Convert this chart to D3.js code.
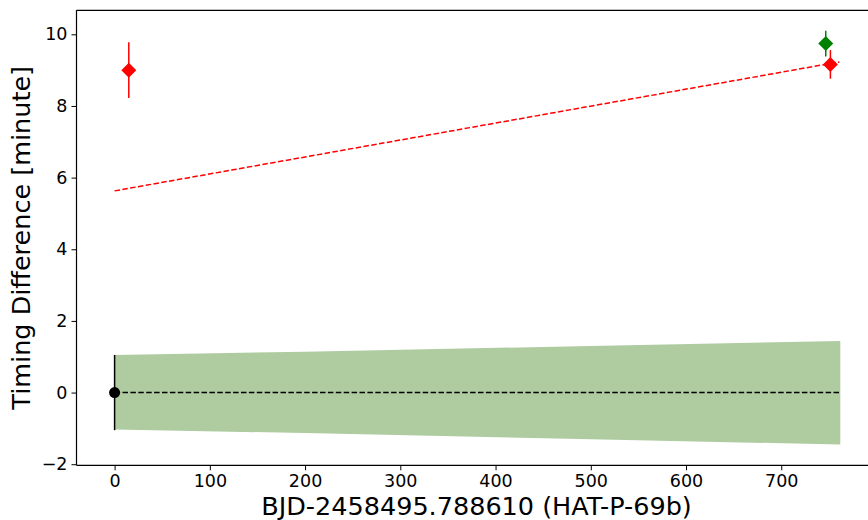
<!DOCTYPE html>
<html>
<head>
<meta charset="utf-8">
<script src="https://cdn.jsdelivr.net/npm/d3@7"></script>
<style>
  html, body { margin: 0; padding: 0; background: #fff; }
  svg { display: block; font-family: "DejaVu Sans", sans-serif; }
</style>
</head>
<body>
<svg id="chart" width="868" height="520"></svg>
<script>
// Reference transit (epoch 0)
const refX = [0];
const refY = [0];
const refErr = [1.05];

// Red transit timings
const redX = [14.9, 751.6];
const redY = [9.0, 9.16];
const redErr = [0.78, 0.40];

// Green transit timing
const greenX = [746.7];
const greenY = [9.74];
const greenErr = [0.36];

// Linear fit (red dashed)
const fitX = [0, 761];
const fitY = [5.63, 9.23];

// Ephemeris uncertainty band
const bandX = [0, 200, 500, 762];
const bandUpper = [1.05, 1.14, 1.30, 1.44];
const bandLower = [-1.03, -1.13, -1.30, -1.45];

// Zero line
const zeroX = [0, 762];
const zeroY = [0, 0];

const xTicks = [0, 100, 200, 300, 400, 500, 600, 700];
const yTicks = [-2, 0, 2, 4, 6, 8, 10];

const xLabel = "BJD-2458495.788610 (HAT-P-69b)";
const yLabel = "Timing Difference [minute]";

const svg = d3.select("#chart");
const mLeft = 76.5, mRight = 876.5, mTop = 10.3, mBottom = 465.3;

const x = d3.scaleLinear().domain([-40, 800]).range([mLeft, mRight]);
const y = d3.scaleLinear().domain([-2.03, 10.67]).range([mBottom, mTop]);

const plot = svg.append("g");

// band
const bandData = bandX.map((v, i) => ({x: v, lo: bandLower[i], hi: bandUpper[i]}));
plot.append("path")
  .datum(bandData)
  .attr("d", d3.area().x(d => x(d.x)).y0(d => y(d.lo)).y1(d => y(d.hi)))
  .attr("fill", "#aecca0");

// zero dashed line
plot.append("path")
  .datum(zeroX.map((v, i) => [v, zeroY[i]]))
  .attr("d", d3.line().x(d => x(d[0])).y(d => y(d[1])))
  .attr("stroke", "#000").attr("stroke-width", 1.5)
  .attr("stroke-dasharray", "5.5,2.4").attr("fill", "none");

// fit dashed line
plot.append("path")
  .datum(fitX.map((v, i) => [v, fitY[i]]))
  .attr("d", d3.line().x(d => x(d[0])).y(d => y(d[1])))
  .attr("stroke", "#ff0000").attr("stroke-width", 1.5)
  .attr("stroke-dasharray", "5.5,2.4").attr("fill", "none");

function errorPoints(xs, ys, es, color, shape) {
  const pts = xs.map((v, i) => ({x: v, y: ys[i], e: es[i]}));
  const g = plot.append("g");
  g.selectAll("line").data(pts).join("line")
    .attr("x1", d => x(d.x)).attr("x2", d => x(d.x))
    .attr("y1", d => y(d.y - d.e)).attr("y2", d => y(d.y + d.e))
    .attr("stroke", color).attr("stroke-width", 1.5);
  if (shape === "diamond") {
    const r = 7.5;
    g.selectAll("path").data(pts).join("path")
      .attr("d", d => {
        const cx = x(d.x), cy = y(d.y);
        return `M${cx},${cy - r}L${cx + r},${cy}L${cx},${cy + r}L${cx - r},${cy}Z`;
      })
      .attr("fill", color);
  } else {
    g.selectAll("circle").data(pts).join("circle")
      .attr("cx", d => x(d.x)).attr("cy", d => y(d.y)).attr("r", 5.5)
      .attr("fill", color);
  }
}

errorPoints(refX, refY, refErr, "#000000", "circle");
errorPoints(redX, redY, redErr, "#ff0000", "diamond");
errorPoints(greenX, greenY, greenErr, "#008000", "diamond");

// axes
const fmt = d => d < 0 ? "\u2212" + Math.abs(d) : String(d);
const xAxis = svg.append("g").attr("transform", `translate(0,${mBottom})`)
  .call(d3.axisBottom(x).tickValues(xTicks).tickFormat(fmt).tickSize(5).tickPadding(4).tickSizeOuter(0));
const yAxis = svg.append("g").attr("transform", `translate(${mLeft},0)`)
  .call(d3.axisLeft(y).tickValues(yTicks).tickFormat(fmt).tickSize(5).tickPadding(4).tickSizeOuter(0));
[xAxis, yAxis].forEach(a => {
  a.selectAll("text").attr("font-size", 17.5).attr("fill", "#000")
    .attr("font-family", "DejaVu Sans, sans-serif");
  a.selectAll("line").attr("stroke", "#000").attr("stroke-width", 1);
  a.select(".domain").remove();
});

// spines: left, bottom, top
svg.append("line").attr("x1", mLeft).attr("x2", mLeft).attr("y1", mTop).attr("y2", mBottom)
  .attr("stroke", "#000").attr("stroke-width", 1.2);
svg.append("line").attr("x1", mLeft).attr("x2", mRight).attr("y1", mBottom).attr("y2", mBottom)
  .attr("stroke", "#000").attr("stroke-width", 1.2);
svg.append("line").attr("x1", mLeft).attr("x2", mRight).attr("y1", mTop).attr("y2", mTop)
  .attr("stroke", "#000").attr("stroke-width", 1.2);

// axis titles
svg.append("text")
  .attr("x", (mLeft + mRight) / 2).attr("y", 514.5)
  .attr("text-anchor", "middle").attr("font-size", 25.5).attr("fill", "#000")
  .text(xLabel);
svg.append("text")
  .attr("transform", `translate(30,${(mTop + mBottom) / 2}) rotate(-90)`)
  .attr("text-anchor", "middle").attr("font-size", 25.5).attr("fill", "#000")
  .text(yLabel);
</script>
</body>
</html>
